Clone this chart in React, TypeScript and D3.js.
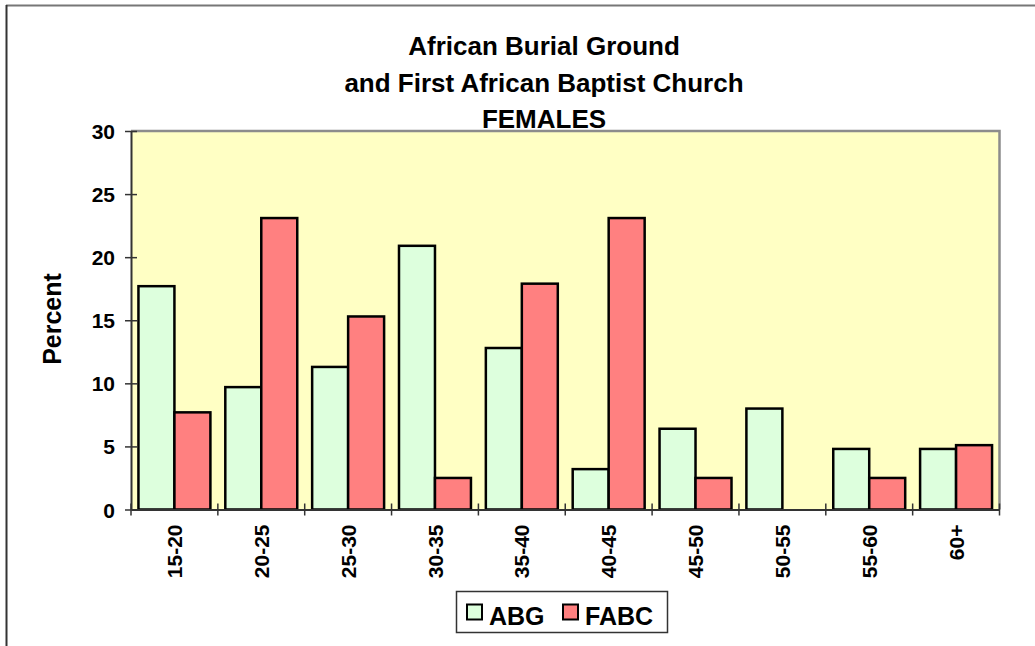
import React, { useEffect, useRef } from "react";
import * as d3 from "d3";

// age groups on the x axis
const ageGroups = ["15-20", "20-25", "25-30", "30-35", "35-40", "40-45", "45-50", "50-55", "55-60", "60+"];
const seriesNames = ["ABG", "FABC"];
// percent of females in each age group
const abgValues = [17.7, 9.7, 11.3, 20.9, 12.8, 3.2, 6.4, 8.0, 4.8, 4.8];
const fabcValues = [7.7, 23.1, 15.3, 2.5, 17.9, 23.1, 2.5, 0, 2.5, 5.1];
const yTicks = [0, 5, 10, 15, 20, 25, 30];
const titleLines = ["African Burial Ground", "and First African Baptist Church", "FEMALES"];

const colors: Record<string, string> = { ABG: "#ddffdd", FABC: "#ff8080" };
const font = "'Liberation Sans', Arial, sans-serif";

function App() {
    const svgRef = useRef<SVGSVGElement>(null);

    useEffect(() => {
        const width = 1035, height = 646;
        const plot = { left: 131, right: 999.5, top: 131, bottom: 509.5 };

        const svg = d3.select(svgRef.current);
        svg.selectAll("*").remove();
        svg.attr("width", width).attr("height", height);

        // outer chart frame (only top and left visible)
        svg.append("line")
            .attr("x1", 6).attr("x2", width).attr("y1", 5.5).attr("y2", 5.5)
            .attr("stroke", "#777").attr("stroke-width", 2);
        svg.append("line")
            .attr("x1", 6.5).attr("x2", 6.5).attr("y1", 5).attr("y2", height)
            .attr("stroke", "#333").attr("stroke-width", 2);

        const x0 = d3.scaleBand().domain(ageGroups).range([plot.left, plot.right]).padding(0);
        const x1 = d3.scaleBand().domain(seriesNames).range([0, x0.bandwidth()]).paddingInner(0).paddingOuter(0.207);
        const y = d3.scaleLinear().domain([0, 30]).range([plot.bottom, plot.top]);

        // plot background
        svg.append("rect")
            .attr("x", plot.left).attr("y", plot.top)
            .attr("width", plot.right - plot.left).attr("height", plot.bottom - plot.top)
            .attr("fill", "#ffffc4");

        // title
        svg.append("g").selectAll("text")
            .data(titleLines)
            .join("text")
            .attr("x", 544)
            .attr("y", (d, i) => 55 + i * 36.5)
            .attr("text-anchor", "middle")
            .attr("font-family", font)
            .attr("font-weight", "bold")
            .attr("font-size", 26)
            .text(d => d);

        const rows = ageGroups.map((g, i) => ({ group: g, ABG: abgValues[i], FABC: fabcValues[i] }));

        // bars
        const groups = svg.append("g").selectAll("g")
            .data(rows)
            .join("g")
            .attr("transform", d => `translate(${x0(d.group)},0)`);

        groups.selectAll("rect")
            .data(d => seriesNames.map(k => ({ key: k, value: (d as any)[k] as number })).filter(v => v.value > 0))
            .join("rect")
            .attr("x", d => x1(d.key)!)
            .attr("y", d => y(d.value))
            .attr("width", x1.bandwidth())
            .attr("height", d => y(0) - y(d.value))
            .attr("fill", d => colors[d.key])
            .attr("stroke", "#000")
            .attr("stroke-width", 2.5);

        // top and right border of the plot area
        svg.append("path")
            .attr("d", `M${plot.left},${plot.top}H${plot.right}V${plot.bottom}`)
            .attr("fill", "none")
            .attr("stroke", "#8c8c8c")
            .attr("stroke-width", 2.5);

        // y axis
        const yAxis = svg.append("g")
            .attr("transform", `translate(${plot.left},0)`)
            .call(d3.axisLeft(y).tickValues(yTicks).tickSize(0).tickPadding(16));
        yAxis.select(".domain").attr("stroke", "#333").attr("stroke-width", 2);
        yAxis.selectAll(".tick line").remove();
        yAxis.selectAll(".tick").append("line")
            .attr("x1", -6).attr("x2", 6)
            .attr("stroke", "#333").attr("stroke-width", 1.5);
        yAxis.selectAll("text")
            .attr("font-family", font)
            .attr("font-weight", "bold")
            .attr("font-size", 21)
            .attr("fill", "#000")
            .attr("dy", "0.36em");

        // x axis
        const xAxis = svg.append("g")
            .attr("transform", `translate(0,${plot.bottom})`)
            .call(d3.axisBottom(x0).tickSize(0).tickPadding(0));
        xAxis.select(".domain").attr("stroke", "#333").attr("stroke-width", 2);
        xAxis.selectAll(".tick line").remove();
        xAxis.selectAll(".tick text")
            .attr("font-family", font)
            .attr("font-weight", "bold")
            .attr("font-size", 21)
            .attr("fill", "#000")
            .attr("text-anchor", "end")
            .attr("transform", "rotate(-90)")
            .attr("x", -15)
            .attr("y", 0)
            .attr("dy", "0.36em");

        // band boundary ticks
        svg.append("g").selectAll("line")
            .data(ageGroups.concat(["end"]))
            .join("line")
            .attr("x1", (d, i) => plot.left + i * x0.step())
            .attr("x2", (d, i) => plot.left + i * x0.step())
            .attr("y1", plot.bottom - 6)
            .attr("y2", plot.bottom + 6)
            .attr("stroke", "#333")
            .attr("stroke-width", 1.5);

        // y axis label
        svg.append("text")
            .attr("transform", "translate(61,319) rotate(-90)")
            .attr("text-anchor", "middle")
            .attr("font-family", font)
            .attr("font-weight", "bold")
            .attr("font-size", 25)
            .text("Percent");

        // legend
        const legend = svg.append("g");
        legend.append("rect")
            .attr("x", 456.5).attr("y", 591.5).attr("width", 211).attr("height", 41)
            .attr("fill", "#fff").attr("stroke", "#333").attr("stroke-width", 1.5);
        const legendItems = [
            { key: "ABG", sx: 467, tx: 489 },
            { key: "FABC", sx: 563, tx: 585 },
        ];
        legend.selectAll("rect.sw")
            .data(legendItems)
            .join("rect")
            .attr("class", "sw")
            .attr("x", d => d.sx).attr("y", 604.5)
            .attr("width", 15).attr("height", 15)
            .attr("fill", d => colors[d.key])
            .attr("stroke", "#000").attr("stroke-width", 2);
        legend.selectAll("text")
            .data(legendItems)
            .join("text")
            .attr("x", d => d.tx).attr("y", 625)
            .attr("font-family", font)
            .attr("font-weight", "bold")
            .attr("font-size", 25)
            .text(d => d.key);
    }, []);

    return (
        <React.Fragment>
            <svg ref={svgRef} style={{ position: "absolute", left: 0, top: 0 }} />
        </React.Fragment>
    );
}

export default App;
